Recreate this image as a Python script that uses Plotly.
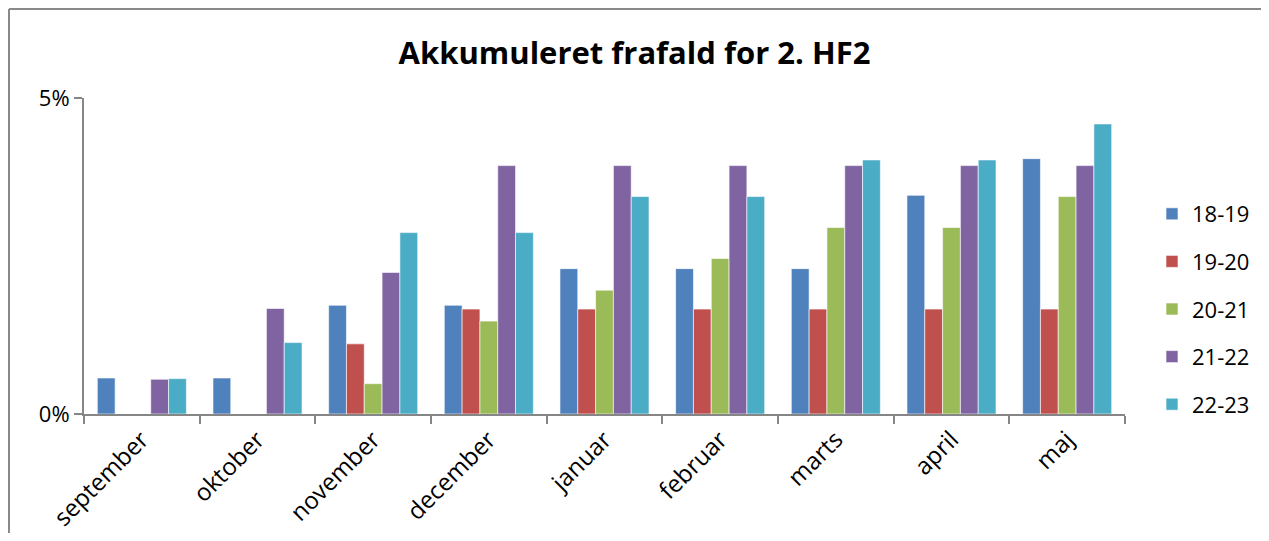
import plotly.graph_objects as go

months = ["september", "oktober", "november", "december", "januar",
          "februar", "marts", "april", "maj"]
series_names = ["18-19", "19-20", "20-21", "21-22", "22-23"]
s1819 = [0.0057, 0.0057, 0.0172, 0.0172, 0.0230, 0.0230, 0.0230, 0.0346, 0.0404]
s1920 = [None, None, 0.0111, 0.0166, 0.0166, 0.0166, 0.0166, 0.0166, 0.0166]
s2021 = [None, None, 0.0048, 0.0147, 0.0196, 0.0246, 0.0295, 0.0295, 0.0344]
s2122 = [0.0055, 0.0167, 0.0224, 0.0393, 0.0393, 0.0393, 0.0393, 0.0393, 0.0393]
s2223 = [0.0056, 0.0113, 0.0287, 0.0287, 0.0344, 0.0344, 0.0402, 0.0402, 0.0459]
colors = ["#4F81BD", "#C0504D", "#9BBB59", "#8064A2", "#4BACC6"]

all_series = [s1819, s1920, s2021, s2122, s2223]

fig = go.Figure()
for name, vals, col in zip(series_names, all_series, colors):
    fig.add_trace(go.Bar(
        x=months, y=vals, name=name, legendgroup=name,
        marker=dict(color=col, line=dict(color="rgba(255,255,255,0.6)", width=1)),
    ))

axis_gray = "#868686"
FONT = "Open Sans, Noto Sans, sans-serif"
W, H = 1253, 525
fig.update_layout(
    width=W, height=H,
    margin=dict(l=76, r=136, t=90, b=119, autoexpand=False),
    paper_bgcolor="white", plot_bgcolor="white",
    barmode="group", bargap=0.23, bargroupgap=0,
    font=dict(family=FONT, size=22, color="#000000"),
    title=dict(text="<b>Akkumuleret frafald for 2. HF2</b>", x=0.5, xanchor="center",
               y=1 - 45 / H, yanchor="middle", yref="container",
               font=dict(size=31, family=FONT, color="#000")),
    legend=dict(x=(1163 - 84 - 11) / 1041, xanchor="left", y=(414 - 309) / 316, yanchor="middle",
                tracegroupgap=16, font=dict(size=22), itemwidth=30,
                bgcolor="rgba(0,0,0,0)"),
    showlegend=True,
)
fig.update_xaxes(
    type="category", showline=True, linecolor=axis_gray, linewidth=2,
    ticks="outside", tickson="boundaries", ticklen=8, tickcolor=axis_gray, tickwidth=2,
    tickangle=-45, showgrid=False, tickfont=dict(size=24), automargin=False,
)
fig.update_yaxes(
    range=[0, 0.05], tickvals=[0, 0.05], tickformat=".0%",
    showline=True, linecolor=axis_gray, linewidth=2,
    ticks="outside", ticklen=8, tickcolor=axis_gray, tickwidth=2,
    showgrid=True, gridcolor=axis_gray, gridwidth=2, zeroline=False,
    tickfont=dict(size=22), automargin=False,
)
# chart border (Excel chart area outline): left and top edges
bx = (9 - 84) / 1041
by = (414 - 9) / 316
fig.add_shape(type="line", xref="paper", yref="paper", x0=bx, x1=bx, y0=-0.6, y1=by,
              line=dict(color="#898989", width=2), layer="below")
fig.add_shape(type="line", xref="paper", yref="paper", x0=bx, x1=1.4, y0=by, y1=by,
              line=dict(color="#898989", width=2), layer="below")

fig.write_html("out.html")
